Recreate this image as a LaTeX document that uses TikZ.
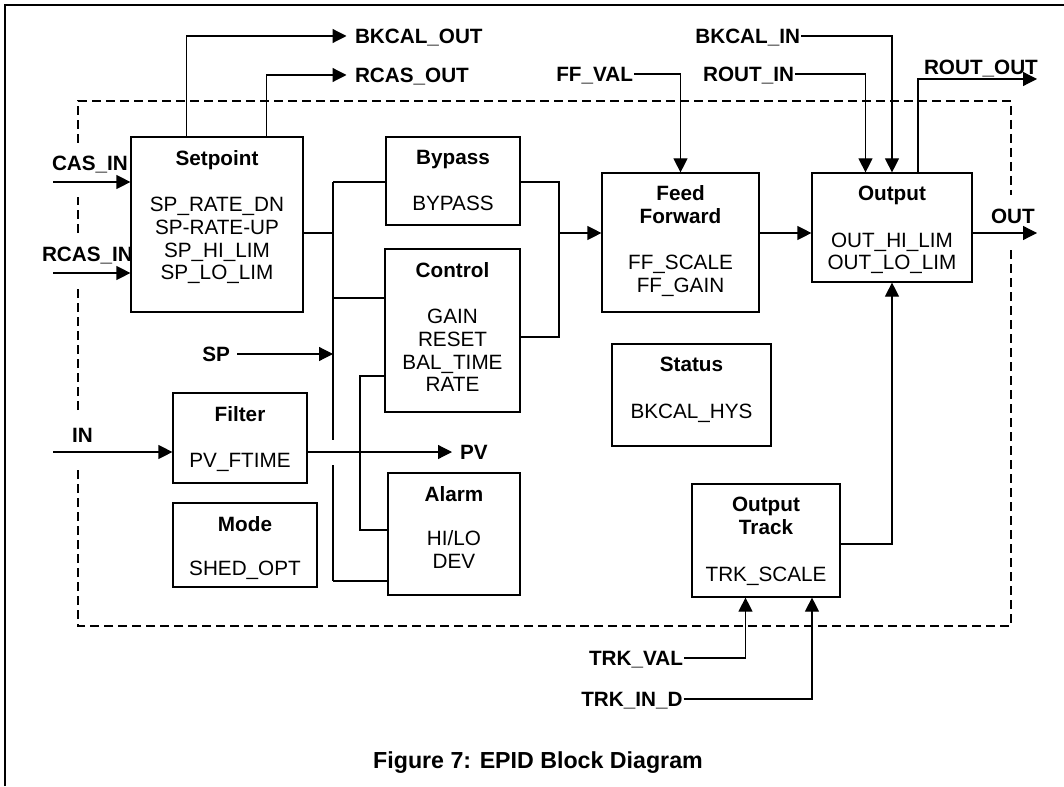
\documentclass[tikz,border=0pt]{standalone}
\usepackage{fontspec}
\setmainfont{Liberation Sans}
\usetikzlibrary{arrows.meta,positioning}
\begin{document}
\begin{tikzpicture}[x=1pt,y=-1pt,line width=1.2pt,
    blk/.style 2 args={draw,minimum width=#1,minimum height=#2,inner sep=0pt},
    txt/.style={align=center,inner sep=0pt,font=\fontsize{20.7}{22.7}\selectfont},
    sig/.style={font=\fontsize{20.7}{22.7}\selectfont\bfseries,inner sep=0pt,
      text height=14.8pt,text depth=0pt,outer sep=#1},
    sig/.default=1pt,
    arr/.style={-{Triangle[length=14pt,width=14pt]}},
    dashbox/.style={line width=1.8pt,dash pattern=on 9pt off 5pt}]
  \useasboundingbox (0,0) rectangle (1064,786);
  % page border
  \draw[line width=1.6pt] (5,786) -- (5,5) -- (1064,5);
  % function block border
  \draw[dashbox] (78,143) -- (78,101) -- (1011,101) -- (1011,195);
  \draw[dashbox] (1011,250) -- (1011,626) -- (78,626) -- (78,467);
  \draw[dashbox] (78,410) -- (78,285);
  \draw[dashbox] (78,233) -- (78,197);

  % blocks
  \node[blk={172pt}{175pt}] (sp) at (217,224.5) {};
  \node[blk={134pt}{88pt}] (byp) at (453,181) {};
  \node[blk={135pt}{163pt}] (ctl) at (452.5,330.5) {};
  \node[blk={134pt}{90pt}] (filt) at (240,438) {};
  \node[blk={144pt}{84pt}] (mode) at (245,545) {};
  \node[blk={132pt}{122pt}] (alm) at (454,534) {};
  \node[blk={157pt}{139pt}] (ff) at (680.5,242.5) {};
  \node[blk={160pt}{109pt}] (outb) at (892,227.5) {};
  \node[blk={159pt}{102pt}] (stat) at (691.5,395) {};
  \node[blk={148pt}{113pt}] (trk) at (766,540.5) {};

  \node[txt,below=13pt of sp.north] (sptxt) {\textbf{Setpoint}\\[24pt]SP\_RATE\_DN\\SP-RATE-UP\\SP\_HI\_LIM\\SP\_LO\_LIM};
  \node[txt,below=13pt of byp.north] (byptxt) {\textbf{Bypass}\\[24pt]BYPASS};
  \node[txt,below=13pt of ctl.north] (ctltxt) {\textbf{Control}\\[24pt]GAIN\\RESET\\BAL\_TIME\\RATE};
  \node[txt,below=13pt of filt.north] (filttxt) {\textbf{Filter}\\[24pt]PV\_FTIME};
  \node[txt,below=13pt of mode.north] (modetxt) {\textbf{Mode}\\[22pt]SHED\_OPT};
  \node[txt,below=13pt of alm.north] (almtxt) {\textbf{Alarm}\\[22pt]HI/LO\\DEV};
  \node[txt,below=13pt of ff.north] (fftxt) {\textbf{Feed}\\\textbf{Forward}\\[23pt]FF\_SCALE\\FF\_GAIN};
  \node[txt,below=13pt of outb.north] (outtxt) {\textbf{Output}\\[24pt]OUT\_HI\_LIM\\OUT\_LO\_LIM};
  \node[txt,below=13pt of stat.north] (stattxt) {\textbf{Status}\\[24pt]BKCAL\_HYS};
  \node[txt,below=13pt of trk.north] (trktxt) {\textbf{Output}\\\textbf{Track}\\[25pt]TRK\_SCALE};

  % signals
  \node[sig,anchor=west] (casin) at (51,163) {CAS\_IN};
  \node[sig,anchor=west] (rcasin) at (41,254) {RCAS\_IN};
  \node[sig=8.5pt,anchor=west] (bkout) at (346.5,36) {BKCAL\_OUT};
  \node[sig=8.5pt,anchor=west] (rcasout) at (346.5,75) {RCAS\_OUT};
  \node[sig=7pt,anchor=east] (spin) at (237,354) {SP};
  \node[sig,anchor=west] (inlab) at (71,435) {IN};
  \node[sig=8pt,anchor=west] (pvlab) at (452,452) {PV};
  \node[sig,anchor=east] (ffval) at (634,74) {FF\_VAL};
  \node[sig,anchor=east] (routin) at (795,74) {ROUT\_IN};
  \node[sig,anchor=east] (bkin) at (801,36) {BKCAL\_IN};
  \node[sig,anchor=west] (routout) at (923,67) {ROUT\_OUT};
  \node[sig,anchor=west] (outlab) at (990,216) {OUT};
  \node[sig,anchor=east] (trkval) at (684,658) {TRK\_VAL};
  \node[sig,anchor=east] (trkind) at (683.5,699) {TRK\_IN\_D};
  \node[font=\fontsize{23.2}{26}\selectfont\bfseries,inner sep=0pt,anchor=base] (cap) at (538,768.3) {Figure 7: EPID Block Diagram};

  \coordinate (casin0) at (53,182);
  \coordinate (rcasin0) at (53,273);
  \coordinate (in0) at (53,452);
  \coordinate (b1) at (333,182);
  \coordinate (b2) at (333,233);
  \coordinate (b3) at (333,298);
  \coordinate (b4) at (333,354);
  \coordinate (b5) at (333,440);
  \coordinate (b6) at (333,465);
  \coordinate (b7) at (333,581);
  \coordinate (c1) at (360,376);
  \coordinate (c2) at (360,530);
  \coordinate (mt) at (559,182);
  \coordinate (m) at (559,233);
  \coordinate (mb) at (559,337);
  \coordinate (ro) at (1037,79);
  \coordinate (oute) at (1037,233);
  \coordinate (tk) at (892,544);

  \draw (sp.east |- b2) -- (b2);
  \draw (b1) -- (b5);
  \draw (b6) -- (b7);
  \draw (b1) -- (b1 -| byp.west);
  \draw (b3) -- (b3 -| ctl.west);
  \draw (b7) -- (b7 -| alm.west);
  \draw (c1 -| ctl.west) -- (c1) -- (c2) -- (c2 -| alm.west);
  \draw (byp.east |- mt) -- (mt) -- (mb) -- (mb -| ctl.east);
  \begin{scope}[arr]
    \draw (casin0) -- (casin0 -| sp.west);
    \draw (rcasin0) -- (rcasin0 -| sp.west);
    \draw ([xshift=-30.5pt]sp.north) |- (bkout.west);
    \draw ([xshift=49.5pt]sp.north) |- (rcasout.west);
    \draw (spin.east) -- (b4);
    \draw (in0) -- (in0 -| filt.west);
    \draw (filt.east |- pvlab) -- (pvlab.west);
    \draw (m) -- (m -| ff.west);
    \draw (ff.east |- m) -- (m -| outb.west);
    \draw (ffval.east) -| (ff.north);
    \draw (routin.east) -| ([xshift=-26.5pt]outb.north);
    \draw (bkin.east) -| (outb.north);
    \draw ([xshift=26pt]outb.north) |- (ro);
    \draw (outb.east |- m) -- (oute);
    \draw (trk.east |- tk) -| (outb.south);
    \draw (trkval.east) -| ([xshift=-20.5pt]trk.south);
    \draw (trkind.east) -| ([xshift=46pt]trk.south);
  \end{scope}
\end{tikzpicture}
\end{document}
